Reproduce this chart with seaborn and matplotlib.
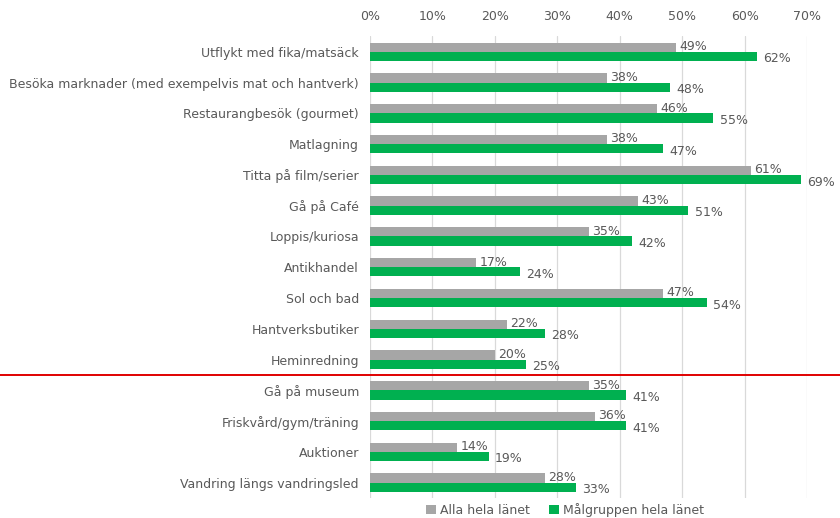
import matplotlib
matplotlib.use("Agg")
import matplotlib.pyplot as plt
import matplotlib.transforms as mtransforms
from matplotlib.lines import Line2D
import seaborn as sns
import pandas as pd

categories = [
    "Utflykt med fika/matsäck",
    "Besöka marknader (med exempelvis mat och hantverk)",
    "Restaurangbesök (gourmet)",
    "Matlagning",
    "Titta på film/serier",
    "Gå på Café",
    "Loppis/kuriosa",
    "Antikhandel",
    "Sol och bad",
    "Hantverksbutiker",
    "Heminredning",
    "Gå på museum",
    "Friskvård/gym/träning",
    "Auktioner",
    "Vandring längs vandringsled",
]
alla = [49, 38, 46, 38, 61, 43, 35, 17, 47, 22, 20, 35, 36, 14, 28]
malgrupp = [62, 48, 55, 47, 69, 51, 42, 24, 54, 28, 25, 41, 41, 19, 33]
series_names = ["Alla hela länet", "Målgruppen hela länet"]
xticks = [0, 10, 20, 30, 40, 50, 60, 70]

df = pd.DataFrame({
    "Aktivitet": categories * 2,
    "Andel": alla + malgrupp,
    "Grupp": [series_names[0]] * len(categories) + [series_names[1]] * len(categories),
})

sns.set_theme(style="white")
plt.rcParams["font.family"] = ["DejaVu Sans"]
text_color = "#595959"
fs = 9

fig = plt.figure(figsize=(8.4, 5.18), dpi=100)
ax = fig.add_axes([370 / 840, 1 - 498 / 518, (807 - 370) / 840, (498 - 36.5) / 518])

palette = {series_names[0]: "#A6A6A6", series_names[1]: "#00B050"}
sns.barplot(data=df, y="Aktivitet", x="Andel", hue="Grupp", order=categories,
            hue_order=series_names, palette=palette, orient="h", width=0.6,
            gap=0, saturation=1, legend=True, ax=ax, zorder=3, linewidth=0)

ax.set_xlim(0, 70)
ax.set_xticks(xticks)
ax.set_xticklabels([f"{t}%" for t in xticks])
ax.xaxis.tick_top()
ax.tick_params(axis="x", length=0, pad=10, labelsize=fs, labelcolor=text_color)
ax.tick_params(axis="y", length=0, pad=8, labelsize=fs, labelcolor=text_color)
ax.set_xlabel("")
ax.set_ylabel("")
ax.grid(axis="x", color="#D9D9D9", linewidth=0.9, zorder=0)
ax.set_axisbelow(True)
for s in ax.spines.values():
    s.set_visible(False)

# value labels
for ci, cont in enumerate(ax.containers):
    for patch in cont.patches:
        w = patch.get_width()
        yc = patch.get_y() + patch.get_height() / 2
        if ci == 0:
            ax.text(w + 0.5, yc - 0.02, f"{w:.0f}%", va="center", ha="left",
                    fontsize=fs, color=text_color, zorder=4)
        else:
            ax.text(w + 1.0, yc + 0.08, f"{w:.0f}%", va="center", ha="left",
                    fontsize=fs, color=text_color, zorder=4)

# red separator line across the full figure width
trans = mtransforms.blended_transform_factory(fig.transFigure, ax.transData)
sep_y = (categories.index("Heminredning") + categories.index("Gå på museum")) / 2
fig.add_artist(Line2D([0, 1], [sep_y, sep_y], transform=trans, color="#E00000",
                      linewidth=1.4, clip_on=False))

# legend at bottom
handles, labels = ax.get_legend_handles_labels()
ax.get_legend().remove()
fig.legend(handles, labels, loc="center", bbox_to_anchor=(565 / 840, 1 - 510 / 518),
           ncol=2, frameon=False, fontsize=fs, labelcolor=text_color,
           handlelength=0.8, handleheight=0.8, handletextpad=0.3, columnspacing=1.5,
           borderaxespad=0)

fig.savefig("out.png", dpi=100)
